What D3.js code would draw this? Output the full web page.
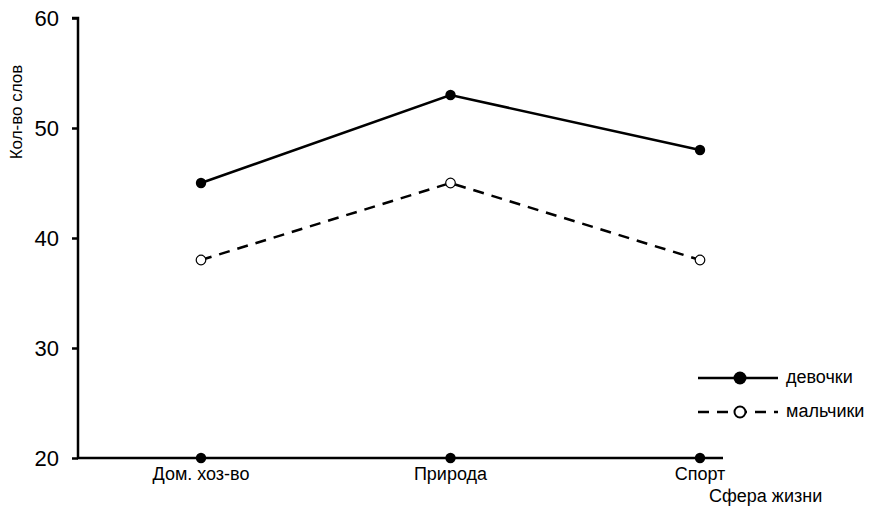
<!DOCTYPE html>
<html><head><meta charset="utf-8">
<script src="https://cdn.jsdelivr.net/npm/d3@7"></script>
<style>body{margin:0;background:#fff;} text{font-family:"Liberation Sans",Arial,sans-serif;}</style>
</head><body><svg id="c" width="870" height="507"></svg>
<script>
const categories = ["Дом. хоз-во", "Природа", "Спорт"];
const girls = [45, 53, 48];
const boys = [38, 45, 38];
const yTicks = [20, 30, 40, 50, 60];
const seriesNames = ["девочки", "мальчики"];

const svg = d3.select("#c");
const x0 = 78, x1 = 723, yTop = 18, yBot = 458;
const x = d3.scalePoint().domain(categories).range([201, 700]);
const y = d3.scaleLinear().domain([20, 60]).range([yBot, yTop]);

// y axis
const yAxis = d3.axisLeft(y).tickValues(yTicks).tickSize(6).tickPadding(13);
const gy = svg.append("g").attr("transform", `translate(${x0},0)`).call(yAxis);
gy.select(".domain").attr("d", `M-6,${yTop}H0V${yBot}`).attr("stroke", "#000").attr("stroke-width", 2.5);
gy.selectAll(".tick line").attr("stroke", "#000").attr("stroke-width", 2.5);
gy.selectAll(".tick text").attr("font-size", 22).attr("fill", "#000");

// x axis
svg.append("line").attr("x1", x0 - 1).attr("x2", x1).attr("y1", yBot).attr("y2", yBot)
  .attr("stroke", "#000").attr("stroke-width", 2.5);
svg.selectAll(".xdot").data(categories).join("circle")
  .attr("cx", d => x(d)).attr("cy", yBot).attr("r", 5.2).attr("fill", "#000");
svg.selectAll(".xlab").data(categories).join("text")
  .attr("x", d => x(d)).attr("y", 480).attr("text-anchor", "middle")
  .attr("font-size", 18).attr("fill", "#000").text(d => d);

svg.append("text").attr("x", 709).attr("y", 502).attr("font-size", 18).text("Сфера жизни");
svg.append("text").attr("transform", "translate(22,112) rotate(-90)").attr("text-anchor", "middle")
  .attr("font-size", 17).text("Кол-во слов");

const line = d3.line().x((d, i) => x(categories[i])).y(d => y(d));
svg.append("path").datum(boys).attr("d", line).attr("fill", "none").attr("stroke", "#000")
  .attr("stroke-width", 2.5).attr("stroke-dasharray", "11,8");
svg.append("path").datum(girls).attr("d", line).attr("fill", "none").attr("stroke", "#000")
  .attr("stroke-width", 2.5);
svg.selectAll(".gdot").data(girls).join("circle")
  .attr("cx", (d, i) => x(categories[i])).attr("cy", d => y(d)).attr("r", 5.2).attr("fill", "#000");
svg.selectAll(".bdot").data(boys).join("circle")
  .attr("cx", (d, i) => x(categories[i])).attr("cy", d => y(d)).attr("r", 4.8)
  .attr("fill", "#fff").attr("stroke", "#000").attr("stroke-width", 1.2);

// legend
const lg = [{y: 378, dash: null, fill: "#000"}, {y: 412, dash: "11,8", fill: "#fff"}];
lg.forEach((l, i) => {
  svg.append("line").attr("x1", 698).attr("x2", 778).attr("y1", l.y).attr("y2", l.y)
    .attr("stroke", "#000").attr("stroke-width", 2.5).attr("stroke-dasharray", l.dash);
  svg.append("circle").attr("cx", 740).attr("cy", l.y).attr("r", i ? 5.5 : 6.5)
    .attr("fill", l.fill).attr("stroke", "#000").attr("stroke-width", i ? 2 : 0);
  svg.append("text").attr("x", 786).attr("y", l.y + 5).attr("font-size", 18).text(seriesNames[i]);
});
</script></body></html>
